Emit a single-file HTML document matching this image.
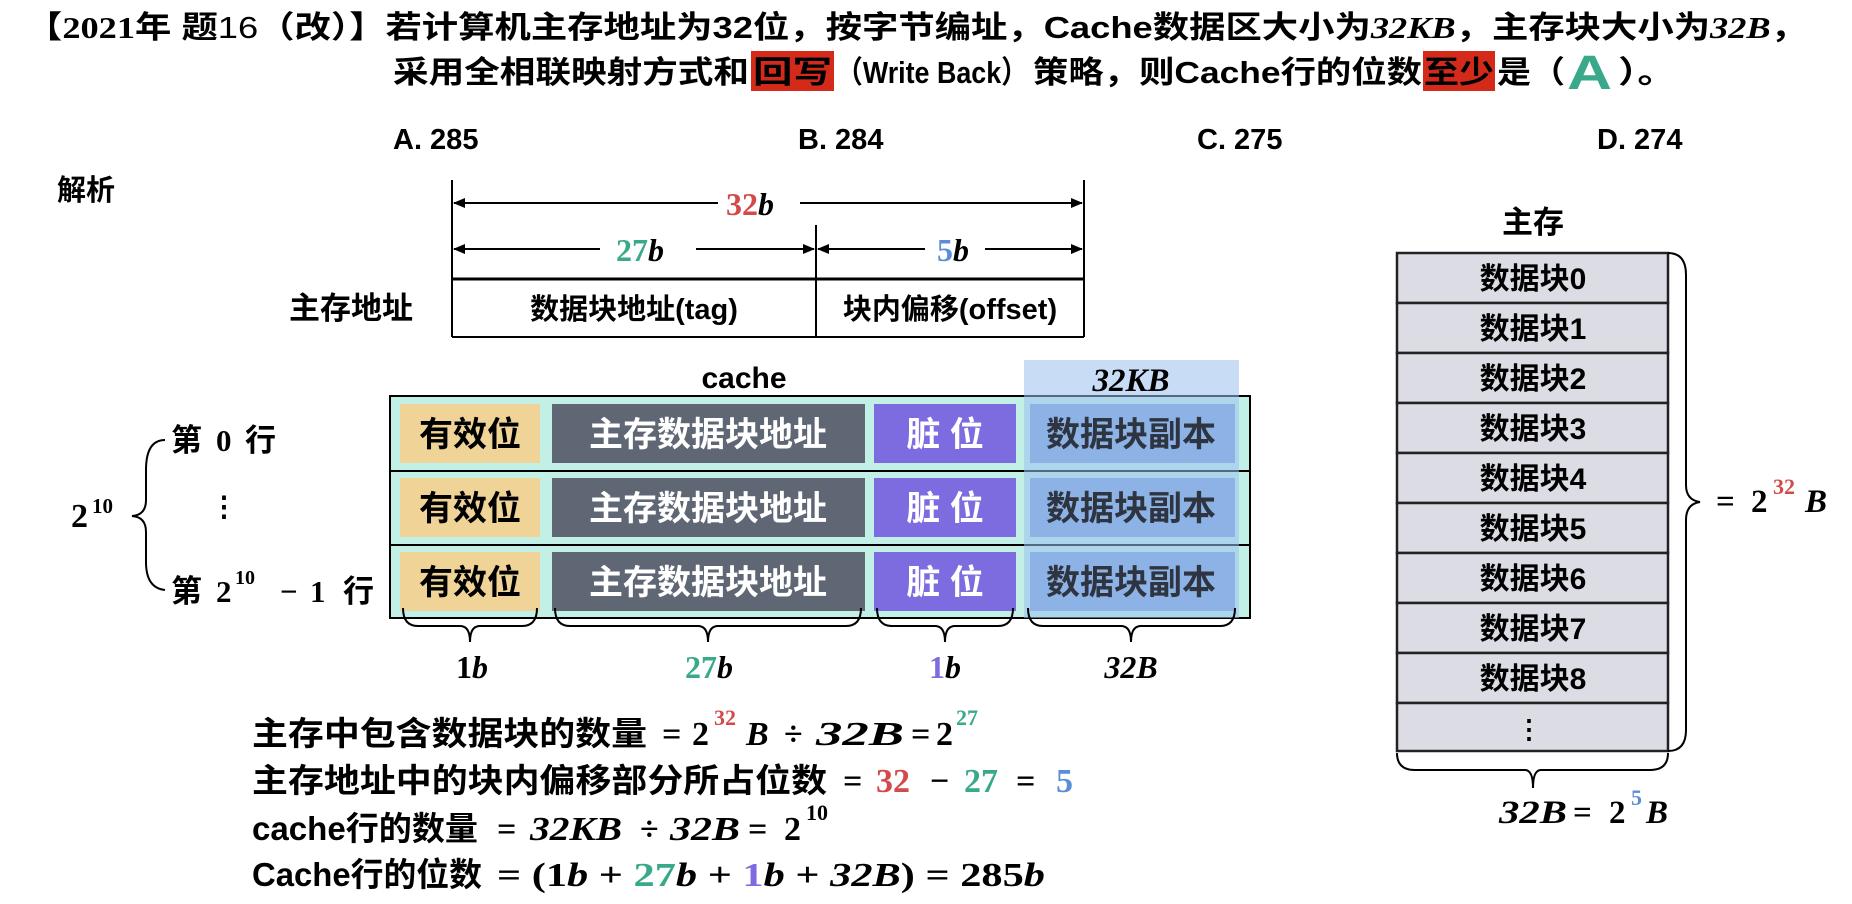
<!DOCTYPE html>
<html><head><meta charset="utf-8"><style>
html,body{margin:0;padding:0;background:#fff;width:1852px;height:904px;overflow:hidden}
svg{display:block}
.cj{font-family:"Liberation Sans","Noto Sans CJK SC",sans-serif;font-weight:bold}
.m{font-family:"Liberation Serif","DejaVu Serif",serif;font-weight:bold;font-style:italic}
.n{font-family:"Liberation Serif","DejaVu Serif",serif;font-weight:bold}
</style></head><body>
<svg width="1852" height="904" viewBox="0 0 1852 904" xmlns="http://www.w3.org/2000/svg">
<defs>
<marker id="ar" markerWidth="12" markerHeight="10" refX="11" refY="5" orient="auto-start-reverse" markerUnits="userSpaceOnUse">
<path d="M0,0 L12,5 L0,10 z" fill="#000"/></marker>
</defs>
<!-- title -->
<rect x="751" y="51" width="83" height="40" fill="#d42a1a"/>
<rect x="1423" y="51" width="72" height="40" fill="#d42a1a"/>
<text class="cj" x="26" y="38" font-size="31" textLength="1781" lengthAdjust="spacingAndGlyphs">【<tspan class="n" font-style="normal" font-weight="normal">2021</tspan>年 题<tspan font-weight="normal">16</tspan>（改）】若计算机主存地址为32位，按字节编址，Cache数据区大小为<tspan class="m" font-weight="normal">32KB</tspan>，主存块大小为<tspan class="m" font-weight="normal">32B</tspan>，</text>
<g class="cj" font-size="31">
<text x="393" y="83" textLength="356" lengthAdjust="spacingAndGlyphs">采用全相联映射方式和</text>
<text x="753" y="83" textLength="79" lengthAdjust="spacingAndGlyphs">回写</text>
<text x="836" y="83" textLength="192" lengthAdjust="spacingAndGlyphs">（Write Back）</text>
<text x="1033" y="83" textLength="389" lengthAdjust="spacingAndGlyphs">策略，则Cache行的位数</text>
<text x="1424" y="83" textLength="70" lengthAdjust="spacingAndGlyphs">至少</text>
<text x="1497" y="83" textLength="68" lengthAdjust="spacingAndGlyphs">是（</text>
<text x="1618" y="83" textLength="58" lengthAdjust="spacingAndGlyphs">）。</text>
</g>
<text class="cj" x="1567" y="89" font-size="48" fill="#3aa88a" textLength="45" lengthAdjust="spacingAndGlyphs">A</text>
<!-- options -->
<g class="cj" font-size="29">
<text x="393" y="149">A. 285</text><text x="798" y="149">B. 284</text>
<text x="1197" y="149">C. 275</text><text x="1597" y="149">D. 274</text>
<text x="57" y="200">解析</text>
</g>
<!-- address diagram -->
<g stroke="#000" stroke-width="2" fill="none">
<line x1="452" y1="180" x2="452" y2="337"/>
<line x1="1084" y1="180" x2="1084" y2="337"/>
<line x1="816" y1="225" x2="816" y2="337"/>
<line x1="452" y1="279" x2="1084" y2="279" stroke-width="3"/>
<line x1="452" y1="337" x2="1084" y2="337"/>
<line x1="454" y1="203" x2="718" y2="203" marker-start="url(#ar)"/>
<line x1="800" y1="203" x2="1082" y2="203" marker-end="url(#ar)"/>
<line x1="454" y1="249" x2="600" y2="249" marker-start="url(#ar)"/>
<line x1="696" y1="249" x2="814" y2="249" marker-end="url(#ar)"/>
<line x1="818" y1="249" x2="925" y2="249" marker-start="url(#ar)"/>
<line x1="985" y1="249" x2="1082" y2="249" marker-end="url(#ar)"/>
</g>
<text class="n" x="726" y="215" font-size="32" fill="#d24a4a">32<tspan class="m" fill="#000">b</tspan></text>
<text class="n" x="616" y="261" font-size="32" fill="#3aa88a">27<tspan class="m" fill="#000">b</tspan></text>
<text class="n" x="937" y="261" font-size="32" fill="#5b8ed8">5<tspan class="m" fill="#000">b</tspan></text>
<text class="cj" x="289" y="319" font-size="31">主存地址</text>
<text class="cj" x="634" y="319" font-size="29" text-anchor="middle">数据块地址(tag)</text>
<text class="cj" x="950" y="319" font-size="29" text-anchor="middle">块内偏移(offset)</text>
<!-- cache -->
<text class="cj" x="744" y="388" font-size="30" text-anchor="middle">cache</text>
<rect x="390" y="396" width="860" height="222" fill="#c2f0e6" stroke="#000" stroke-width="2"/>
<line x1="390" y1="471" x2="1250" y2="471" stroke="#000" stroke-width="2"/>
<line x1="390" y1="545" x2="1250" y2="545" stroke="#000" stroke-width="2"/>
<rect x="1024" y="360" width="215" height="258" fill="#9cbfee" opacity="0.55"/>
<text class="m" x="1131" y="391" font-size="33" text-anchor="middle">32KB</text>
<g>
<rect x="400" y="404" width="140" height="59" fill="#f0d497"/>
<rect x="552" y="404" width="313" height="59" fill="#5f6674"/>
<rect x="874" y="404" width="142" height="59" fill="#7c6ce0"/>
<rect x="1030" y="404" width="205" height="59" fill="#8db3e6"/>
</g>
<g transform="translate(0,74)">
<rect x="400" y="404" width="140" height="59" fill="#f0d497"/>
<rect x="552" y="404" width="313" height="59" fill="#5f6674"/>
<rect x="874" y="404" width="142" height="59" fill="#7c6ce0"/>
<rect x="1030" y="404" width="205" height="59" fill="#8db3e6"/>
</g>
<g transform="translate(0,148)">
<rect x="400" y="404" width="140" height="59" fill="#f0d497"/>
<rect x="552" y="404" width="313" height="59" fill="#5f6674"/>
<rect x="874" y="404" width="142" height="59" fill="#7c6ce0"/>
<rect x="1030" y="404" width="205" height="59" fill="#8db3e6"/>
</g>
<g class="cj" font-size="34" text-anchor="middle">
<text x="470" y="446">有效位</text><text x="708" y="446" fill="#fff">主存数据块地址</text><text x="945" y="446" fill="#fff">脏 位</text><text x="1131" y="446" fill="#2e3440">数据块副本</text>
<text x="470" y="520">有效位</text><text x="708" y="520" fill="#fff">主存数据块地址</text><text x="945" y="520" fill="#fff">脏 位</text><text x="1131" y="520" fill="#2e3440">数据块副本</text>
<text x="470" y="594">有效位</text><text x="708" y="594" fill="#fff">主存数据块地址</text><text x="945" y="594" fill="#fff">脏 位</text><text x="1131" y="594" fill="#2e3440">数据块副本</text>
</g>
<g stroke="#000" stroke-width="2" fill="none">
<path d="M403,608 Q403,626 418,626 L460,626 Q470,626 470,642 Q470,626 480,626 L522,626 Q537,626 537,608"/>
<path d="M555,608 Q555,626 570,626 L698,626 Q708,626 708,642 Q708,626 718,626 L846,626 Q861,626 861,608"/>
<path d="M877,608 Q877,626 892,626 L935,626 Q945,626 945,642 Q945,626 955,626 L998,626 Q1013,626 1013,608"/>
<path d="M1028,608 Q1028,626 1043,626 L1121,626 Q1131,626 1131,642 Q1131,626 1141,626 L1220,626 Q1235,626 1235,608"/>
</g>
<g font-size="32" text-anchor="middle">
<text class="n" x="472" y="678">1<tspan class="m">b</tspan></text>
<text class="n" x="709" y="678" fill="#3aa88a">27<tspan class="m" fill="#000">b</tspan></text>
<text class="n" x="945" y="678" fill="#7c6ce0">1<tspan class="m" fill="#000">b</tspan></text>
<text class="m" x="1131" y="678">32B</text>
</g>
<!-- left labels -->
<g class="cj" font-size="31">
<text x="171" y="451">第</text><text class="n" x="216" y="451">0</text><text x="245" y="451">行</text>
<text x="171" y="602">第</text><text x="343" y="602">行</text>
</g>
<text class="n" x="216" y="602" font-size="31">2</text>
<text class="n" x="235" y="584" font-size="20">10</text>
<text class="n" x="280" y="602" font-size="31">−</text>
<text class="n" x="310" y="602" font-size="31">1</text>
<text class="n" x="224" y="516" font-size="28" text-anchor="middle">⋮</text>
<text class="n" x="71" y="527" font-size="34">2</text>
<text class="n" x="92" y="513" font-size="21">10</text>
<path d="M165,440 Q146,440 146,470 L146,500 Q146,515 132,516 Q146,517 146,532 L146,562 Q146,588 165,590" stroke="#000" stroke-width="2" fill="none"/>
<!-- equations -->
<g class="cj" font-size="33">
<text x="252" y="745" textLength="395" lengthAdjust="spacingAndGlyphs">主存中包含数据块的数量</text>
<text x="252" y="792" textLength="575" lengthAdjust="spacingAndGlyphs">主存地址中的块内偏移部分所占位数</text>
<text x="252" y="840" textLength="226" lengthAdjust="spacingAndGlyphs">cache行的数量</text>
<text x="252" y="886" textLength="230" lengthAdjust="spacingAndGlyphs">Cache行的位数</text>
</g>
<g font-size="34">
<text class="n" x="662" y="745">=</text>
<text class="n" x="692" y="745">2</text>
<text class="n" x="714" y="725" font-size="22" fill="#d24a4a">32</text>
<text class="m" x="746" y="745">B</text>
<text class="n" x="784" y="745">÷</text>
<text class="m" x="816" y="745" textLength="88" lengthAdjust="spacingAndGlyphs">32B</text>
<text class="n" x="911" y="745">=</text>
<text class="n" x="936" y="745">2</text>
<text class="n" x="956" y="725" font-size="22" fill="#3aa88a">27</text>

<text class="n" x="843" y="792">=</text>
<text class="n" x="876" y="792" fill="#d24a4a">32</text>
<text class="n" x="930" y="792">−</text>
<text class="n" x="964" y="792" fill="#3aa88a">27</text>
<text class="n" x="1016" y="792">=</text>
<text class="n" x="1056" y="792" fill="#5b8ed8">5</text>

<text class="n" x="497" y="840">=</text>
<text class="m" x="530" y="840" textLength="92" lengthAdjust="spacingAndGlyphs">32KB</text>
<text class="n" x="640" y="840">÷</text>
<text class="m" x="670" y="840" textLength="70" lengthAdjust="spacingAndGlyphs">32B</text>
<text class="n" x="748" y="840">=</text>
<text class="n" x="784" y="840">2</text>
<text class="n" x="806" y="820" font-size="22">10</text>

<text class="n" x="497" y="886" textLength="548" lengthAdjust="spacingAndGlyphs">= (1<tspan class="m">b</tspan> + <tspan fill="#3aa88a">27</tspan><tspan class="m">b</tspan> + <tspan fill="#7c6ce0">1</tspan><tspan class="m">b</tspan> + <tspan class="m">32B</tspan>) = 285<tspan class="m">b</tspan></text>
</g>
<!-- main memory -->
<text class="cj" x="1533" y="233" font-size="31" text-anchor="middle">主存</text>
<g stroke="#222" stroke-width="2.5" fill="#dcdde4">
<rect x="1397" y="253" width="271" height="50"/><rect x="1397" y="303" width="271" height="50"/>
<rect x="1397" y="353" width="271" height="50"/><rect x="1397" y="403" width="271" height="50"/>
<rect x="1397" y="453" width="271" height="50"/><rect x="1397" y="503" width="271" height="50"/>
<rect x="1397" y="553" width="271" height="50"/><rect x="1397" y="603" width="271" height="50"/>
<rect x="1397" y="653" width="271" height="50"/><rect x="1397" y="703" width="271" height="48"/>
</g>
<g class="cj" font-size="30" text-anchor="middle">
<text x="1533" y="289">数据块0</text><text x="1533" y="339">数据块1</text><text x="1533" y="389">数据块2</text>
<text x="1533" y="439">数据块3</text><text x="1533" y="489">数据块4</text><text x="1533" y="539">数据块5</text>
<text x="1533" y="589">数据块6</text><text x="1533" y="639">数据块7</text><text x="1533" y="689">数据块8</text>
</g>
<text class="n" x="1529" y="738" font-size="26" text-anchor="middle">⋮</text>
<g stroke="#000" stroke-width="2" fill="none">
<path d="M1668,253 Q1686,253 1686,275 L1686,485 Q1686,500 1700,502 Q1686,504 1686,520 L1686,730 Q1686,751 1668,751"/>
<path d="M1397,753 Q1397,770 1415,770 L1525,770 Q1533,770 1533,788 Q1533,770 1541,770 L1650,770 Q1668,770 1668,753"/>
</g>
<g font-size="33">
<text class="n" x="1716" y="512">=</text>
<text class="n" x="1751" y="512">2</text>
<text class="n" x="1773" y="494" font-size="22" fill="#d24a4a">32</text>
<text class="m" x="1805" y="512">B</text>
<text class="m" x="1499" y="823" textLength="68" lengthAdjust="spacingAndGlyphs">32B</text>
<text class="n" x="1573" y="823">=</text>
<text class="n" x="1609" y="823">2</text>
<text class="n" x="1631" y="805" font-size="22" fill="#5b8ed8">5</text>
<text class="m" x="1646" y="823">B</text>
</g>
</svg>
</body></html>
